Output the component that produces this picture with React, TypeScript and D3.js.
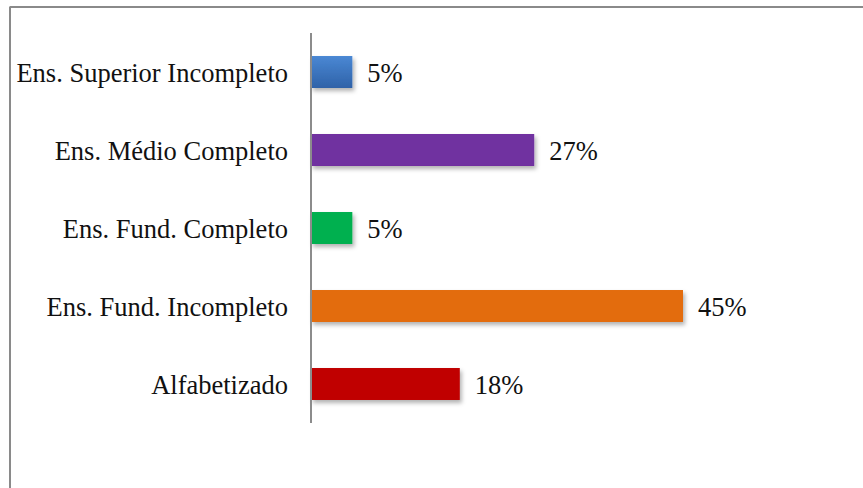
import React from "react";
import * as d3 from "d3";

const categories = [
  "Ens. Superior Incompleto",
  "Ens. Médio Completo",
  "Ens. Fund. Completo",
  "Ens. Fund. Incompleto",
  "Alfabetizado",
];
const values = [5, 27, 5, 45, 18];
const colors = ["#3a76c4", "#7030a0", "#00b050", "#e36c0a", "#c00000"];

const FONT = "Liberation Serif, Times New Roman, DejaVu Serif, serif";

export default function App() {
  const W = 863, H = 488;
  const x0 = 311;
  const x = d3.scaleLinear().domain([0, 45]).range([x0, 683]);
  const y = d3.scaleBand<string>().domain(categories).range([33, 423]).paddingInner(0.59).paddingOuter(0.295);
  return (
    <svg width={W} height={H} style={{ position: "absolute", left: 0, top: 0, background: "#fff" }}>
      <defs>
        <linearGradient id="blueGrad" x1="0" y1="0" x2="0" y2="1">
          <stop offset="0" stopColor="#4a88d4" />
          <stop offset="1" stopColor="#2f62a8" />
        </linearGradient>
        <filter id="sh" x="-10%" y="-30%" width="130%" height="180%">
          <feDropShadow dx="2" dy="3" stdDeviation="2" floodColor="#000" floodOpacity="0.3" />
        </filter>
      </defs>
      <rect x={0} y={0} width={W} height={H} fill="#fff" />
      <line x1={9.5} y1={7} x2={W} y2={7} stroke="#8a8a8a" strokeWidth={2} />
      <line x1={10} y1={7} x2={10} y2={H} stroke="#8a8a8a" strokeWidth={2} />
      {categories.map((c, i) => {
        const yy = y(c)!;
        const bw = y.bandwidth();
        return (
          <g key={c}>
            <rect x={x0} y={yy} width={x(values[i]) - x0} height={bw}
              fill={i === 0 ? "url(#blueGrad)" : colors[i]} filter="url(#sh)" />
            <text x={x(values[i]) + 15} y={yy + bw / 2 + 10} fill="#111"
              style={{ fontFamily: FONT, fontSize: "26.5px" }}>
              {values[i]}%
            </text>
            <text x={288} y={yy + bw / 2 + 10} fill="#111" textAnchor="end"
              style={{ fontFamily: FONT, fontSize: "26.5px" }}>
              {c}
            </text>
          </g>
        );
      })}
      <line x1={x0} y1={33} x2={x0} y2={423} stroke="#8c8c8c" strokeWidth={2} />
    </svg>
  );
}
